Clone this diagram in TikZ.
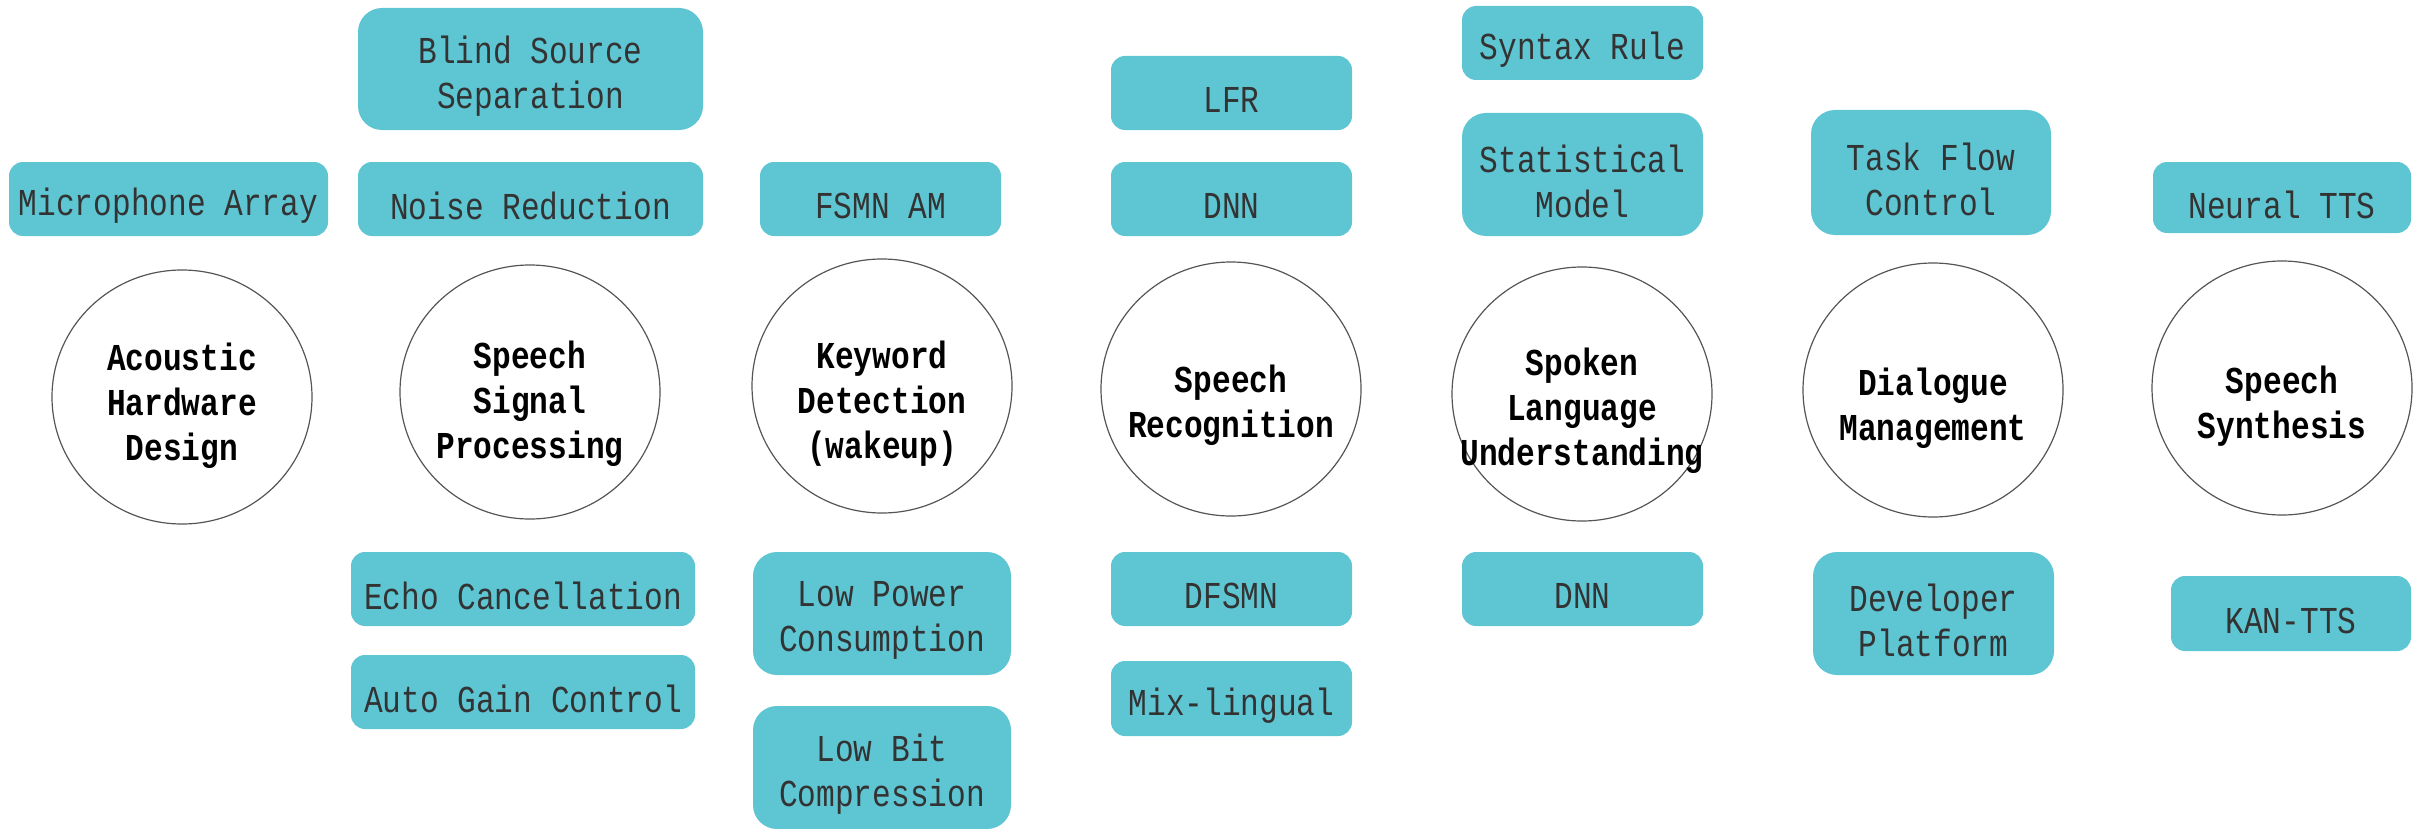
\documentclass[tikz,border=0pt]{standalone}
\usepackage{fontspec}
\usetikzlibrary{shapes.geometric}
\newfontfamily\boxfont[FakeStretch=0.82]{Liberation Mono}
\definecolor{tealbox}{HTML}{5EC5D2}
\definecolor{boxtext}{HTML}{333333}
\definecolor{hubline}{HTML}{555555}
\tikzset{
  tagtext/.style={text=boxtext, font=\boxfont\fontsize{19}{22.5}\selectfont, align=center, inner sep=0pt, yshift=-3.5pt},
  tag/.style={rectangle, rounded corners=7pt, fill=tealbox, draw=none, inner sep=0pt,
    label={[tagtext]center:{#1}}},
  bigtag/.style={tag={#1}, rounded corners=12pt},
  hub/.style={ellipse, draw=hubline, line width=0.6pt, minimum width=130pt, minimum height=127pt, inner sep=0pt},
  hubtext/.style={font=\boxfont\bfseries\fontsize{19}{22.5}\selectfont, align=center, text=black, inner sep=0pt}
}
\begin{document}
\begin{tikzpicture}[x=0.5pt,y=-0.5pt]
\useasboundingbox (0,0) rectangle (2423,829);
% hubs
\node[hub] (ahd) at (182,397) {};
\node[hubtext] (ahdt) at (182,406) {Acoustic\\Hardware\\Design};
\node[hub] (ssp) at (530,392) {};
\node[hubtext] (sspt) at (530,404) {Speech\\Signal\\Processing};
\node[hub] (kwd) at (882,386) {};
\node[hubtext] (kwdt) at (882,404) {Keyword\\Detection\\(wakeup)};
\node[hub] (asr) at (1231,389) {};
\node[hubtext] (asrt) at (1231,405) {Speech\\Recognition};
\node[hub] (slu) at (1582,394) {};
\node[hubtext] (slut) at (1582,411) {Spoken\\Language\\Understanding};
\node[hub] (dm) at (1933,390) {};
\node[hubtext] (dmt) at (1933,408) {Dialogue\\Management};
\node[hub] (tts) at (2282,388) {};
\node[hubtext] (ttst) at (2282,406) {Speech\\Synthesis};
% tags
\node[tag={Microphone Array}, minimum width=159.5pt, minimum height=37pt] (mic) at (168.5,199) {};
\node[bigtag={Blind Source\\Separation}, minimum width=172.5pt, minimum height=61pt] (bss) at (530.5,69) {};
\node[tag={Noise Reduction}, minimum width=172.5pt, minimum height=37pt] (nr) at (530.5,199) {};
\node[tag={Echo Cancellation}, minimum width=172pt, minimum height=37pt] (ec) at (523,589) {};
\node[tag={Auto Gain Control}, minimum width=172pt, minimum height=37pt] (agc) at (523,692) {};
\node[tag={FSMN AM}, minimum width=120.5pt, minimum height=37pt] (fsmn) at (880.5,199) {};
\node[bigtag={Low Power\\Consumption}, minimum width=129pt, minimum height=61.5pt] (lpc) at (882,613.5) {};
\node[bigtag={Low Bit\\Compression}, minimum width=129pt, minimum height=61.5pt] (lbc) at (882,767.5) {};
\node[tag={LFR}, minimum width=120.5pt, minimum height=37pt] (lfr) at (1231.5,93) {};
\node[tag={DNN}, minimum width=120.5pt, minimum height=37pt] (dnn) at (1231.5,199) {};
\node[tag={DFSMN}, minimum width=120.5pt, minimum height=37pt] (dfsmn) at (1231.5,589) {};
\node[tag={Mix-lingual}, minimum width=120.5pt, minimum height=37.5pt] (mix) at (1231.5,698.5) {};
\node[tag={Syntax Rule}, minimum width=120.5pt, minimum height=37pt] (syn) at (1582.5,43) {};
\node[bigtag={Statistical\\Model}, minimum width=120.5pt, minimum height=61.5pt] (stat) at (1582.5,174.5) {};
\node[tag={DNN}, minimum width=120.5pt, minimum height=37pt] (dnnb) at (1582.5,589) {};
\node[bigtag={Task Flow\\Control}, minimum width=120pt, minimum height=62.5pt] (tfc) at (1931,172.5) {};
\node[bigtag={Developer\\Platform}, minimum width=120.5pt, minimum height=61.5pt] (dev) at (1933.5,613.5) {};
\node[tag={Neural TTS}, minimum width=129pt, minimum height=35.5pt] (ntts) at (2282,197.5) {};
\node[tag={KAN-TTS}, minimum width=120pt, minimum height=37.5pt] (kan) at (2291,613.5) {};
\end{tikzpicture}
\end{document}
